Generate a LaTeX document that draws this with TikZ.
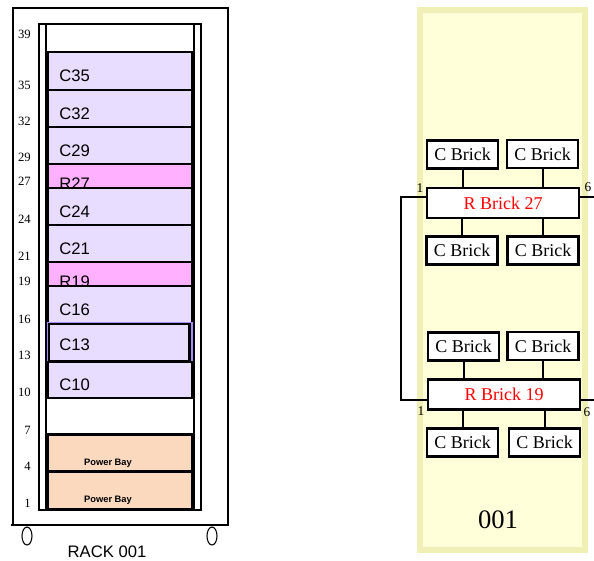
\documentclass[tikz,border=0pt]{standalone}
\usepackage{fontspec}
\setmainfont{Liberation Serif}
\setsansfont{Liberation Sans}
\usetikzlibrary{positioning,calc}
\definecolor{RackLav}{HTML}{E9DDFF}
\definecolor{RackPink}{HTML}{FFB0FF}
\definecolor{RackPeach}{HTML}{FAD9BF}
\definecolor{RackViolet}{HTML}{A98BFF}
\definecolor{PanelFill}{HTML}{FFFFD9}
\definecolor{PanelEdge}{HTML}{F0F0B6}
\definecolor{BrickRed}{HTML}{FF0000}
\tikzset{
  slotBase/.style={draw=black, line width=2pt, minimum width=108.4pt, inner sep=0pt, outer sep=0pt},
  cSlot/.style={slotBase, fill=RackLav},
  rSlot/.style={slotBase, fill=RackPink},
  pSlot/.style={slotBase, fill=RackPeach},
  vSlot/.style={slotBase, fill=RackLav, draw=RackViolet, line width=0.8pt},
  rackLbl/.style={font=\sffamily\fontsize{12.5}{14}\selectfont, inner sep=0pt, anchor=base west},
  bayLbl/.style={font=\sffamily\bfseries\fontsize{7}{8}\selectfont, inner sep=0pt, anchor=base},
  unitNum/.style={font=\fontsize{9.5}{11}\selectfont, inner sep=0pt, anchor=east},
  brick/.style={draw=black, line width=1.6pt, fill=white, minimum width=53.25pt,
    minimum height=21pt, inner sep=0pt, font=\fontsize{13.5}{15}\selectfont},
  rBrick/.style={brick, minimum width=114pt, minimum height=22.5pt, text=BrickRed},
  portLbl/.style={font=\fontsize{10}{11}\selectfont, inner sep=0pt},
  wire/.style={line width=1.5pt, draw=black},
}
\begin{document}
\begin{tikzpicture}[x=0.75pt, y=-0.75pt,
  frameLine/.style={line width=1.6pt, draw=black},
  foot/.style={line width=0.8pt, draw=black},
]
  \useasboundingbox (0,0) rectangle (594,561);

  % rack cabinet
  \draw[frameLine] (13,8) rectangle (228,525);
  \draw[frameLine] (11,525) -- (228,525);
  \draw[frameLine] (39,24) rectangle (201,510);
  \draw[frameLine, fill=white] (46,24) rectangle (194,53);
  \draw[frameLine] (46,24) -- (46,510);
  \draw[frameLine] (194,24) -- (194,510);

  \foreach \nm/\tp/\bt/\txt/\sty/\off in {c35/52/90/C35/cSlot/29, c32/90/127/C32/cSlot/29,
      c29/127/164/C29/cSlot/29, r27/164/188/R27/rSlot/25, c24/188/225/C24/cSlot/29,
      c21/225/262/C21/cSlot/29, r19/262/286/R19/rSlot/25, c16/286/323/C16/cSlot/29,
      c13/323/362/C13/vSlot/27, c10/362/398/C10/cSlot/28} {
    \pgfmathsetmacro\hh{(\bt-\tp)*0.75}
    \node[\sty, minimum height=\hh pt] (s\nm) at (119.75, {(\tp+\bt)/2}) {};
    \node[rackLbl] (l\nm) at (59, \tp+\off) {\txt};
  }
  \node[draw=black, line width=2pt, minimum width=105.4pt, minimum height=27.75pt,
    inner sep=0pt] (c13box) at (119.25, 342.5) {};

  \node[pSlot, minimum height=27.75pt] (bay1) at (119.75, 453) {};
  \node[bayLbl] (lbay1) at (108, 465) {Power Bay};
  \node[pSlot, minimum height=27.75pt] (bay2) at (119.75, 490.5) {};
  \node[bayLbl] (lbay2) at (108, 502) {Power Bay};

  \foreach \n/\y in {39/34, 35/85, 32/121, 29/157, 27/181, 24/219, 21/256, 19/281,
      16/319, 13/355, 10/392, 7/430, 4/466, 1/503}
    \node[unitNum] (u\n) at (31,\y) {\n};

  \draw[foot] (27,536) ellipse [x radius=5, y radius=9];
  \draw[foot] (212,536) ellipse [x radius=5, y radius=9];
  \node[font=\sffamily\fontsize{12.5}{14}\selectfont, inner sep=0pt] (rackName) at (107,551.5) {RACK 001};

  % brick panel
  \draw[PanelEdge, line width=4.5pt, fill=PanelFill] (420,10) rectangle (585,550);

  \node[brick] (c27a) at (462.5,154.5) {C Brick};
  \node[brick] (c27b) at (542.5,154) {C Brick};
  \node[rBrick] (r27) at (503,203) {R Brick 27};
  \node[brick] (c27c) at (462,250.5) {C Brick};
  \node[brick] (c27d) at (543,250.5) {C Brick};

  \node[brick] (c19a) at (463.5,346.5) {C Brick};
  \node[brick] (c19b) at (543,346) {C Brick};
  \node[rBrick] (r19) at (504,394.5) {R Brick 19};
  \node[brick] (c19c) at (462.5,442.5) {C Brick};
  \node[brick] (c19d) at (544.5,442.5) {C Brick};

  \foreach \up/\dn/\r in {c27a/c27c/r27, c27b/c27d/r27, c19a/c19c/r19, c19b/c19d/r19} {
    \draw[wire] (\up.south) -- (\up.south |- \r.north);
    \draw[wire] (\dn.north) -- (\dn.north |- \r.south);
  }

  \draw[wire] ([yshift=4.5pt]r27.west) -- ++(-25,0) coordinate (busLeft)
    |- ([yshift=-4.1pt]r19.west);
  \draw[wire] ([yshift=4.5pt]r27.east) -- ++(20,0) coordinate (busR27);
  \draw[wire] ([yshift=-4.1pt]r19.east) -- ++(20,0) coordinate (busR19);

  \node[portLbl] (p27a) at (420,188) {1};
  \node[portLbl] (p27b) at (588,187) {6};
  \node[portLbl] (p19a) at (421,411.5) {1};
  \node[portLbl] (p19b) at (587,412) {6};

  \node[font=\fontsize{20}{22}\selectfont, inner sep=0pt] (panelName) at (498,519.5) {001};
\end{tikzpicture}
\end{document}
